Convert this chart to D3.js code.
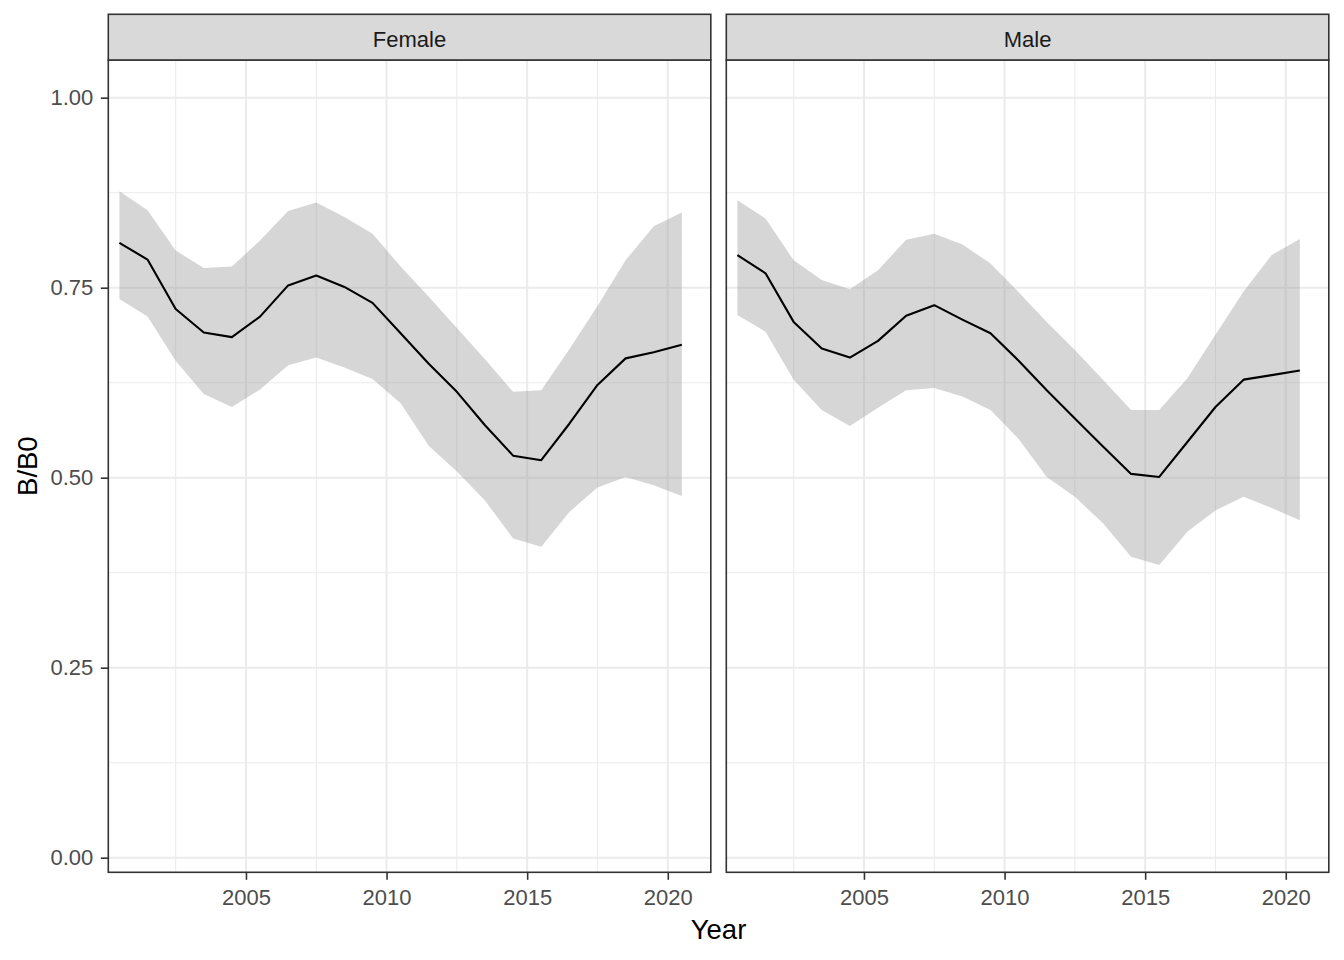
<!DOCTYPE html>
<html>
<head>
<meta charset="utf-8">
<script src="https://cdn.jsdelivr.net/npm/d3@7"></script>
<style>
  body { margin: 0; background: #fff; }
  svg { font-family: "Liberation Sans", Arial, sans-serif; }
</style>
</head>
<body>
<svg id="chart" width="1344" height="960"></svg>
<script>
// estimate years (mid-year points)
const years = d3.range(0, 21).map(i => 2000.5 + i);

const femaleMid = [0.809, 0.787, 0.722, 0.691, 0.685, 0.712, 0.753, 0.766, 0.751, 0.730, 0.690,
                   0.650, 0.613, 0.569, 0.529, 0.523, 0.571, 0.622, 0.657, 0.665, 0.675];
const femaleLo  = [0.735, 0.712, 0.654, 0.610, 0.593, 0.616, 0.648, 0.658, 0.645, 0.630, 0.598,
                   0.542, 0.508, 0.470, 0.420, 0.409, 0.455, 0.487, 0.501, 0.490, 0.476];
const femaleHi  = [0.877, 0.852, 0.799, 0.776, 0.778, 0.812, 0.851, 0.862, 0.843, 0.821, 0.778,
                   0.738, 0.697, 0.656, 0.613, 0.615, 0.669, 0.726, 0.786, 0.831, 0.849];

const maleMid = [0.793, 0.769, 0.705, 0.670, 0.658, 0.680, 0.713, 0.727, 0.708, 0.690, 0.654,
                 0.615, 0.578, 0.541, 0.505, 0.501, 0.547, 0.593, 0.629, 0.635, 0.641];
const maleLo  = [0.714, 0.692, 0.629, 0.589, 0.568, 0.592, 0.615, 0.618, 0.607, 0.589, 0.551,
                 0.501, 0.475, 0.440, 0.396, 0.385, 0.429, 0.457, 0.475, 0.460, 0.444];
const maleHi  = [0.865, 0.841, 0.786, 0.760, 0.748, 0.773, 0.813, 0.821, 0.807, 0.782, 0.744,
                 0.705, 0.668, 0.629, 0.589, 0.589, 0.631, 0.688, 0.745, 0.793, 0.814];

const panelNames = ["Female", "Male"];
const xTicks = [2005, 2010, 2015, 2020];
const xMinorTicks = [2002.5, 2007.5, 2012.5, 2017.5];
const yTicks = [0, 0.25, 0.5, 0.75, 1.0];
const yMinorTicks = [0.125, 0.375, 0.625, 0.875];

const panels = [
    { name: panelNames[0], mid: femaleMid, lo: femaleLo, hi: femaleHi },
    { name: panelNames[1], mid: maleMid, lo: maleLo, hi: maleHi }
].map(p => ({ ...p, rows: years.map((yr, i) => ({ year: yr, mid: p.mid[i], lo: p.lo[i], hi: p.hi[i] })) }));

const svg = d3.select("#chart");

// panel geometry
const panelLefts = [108.3, 726.3];
const panelWidth = 602.5;
const panelTop = 60, panelBottom = 872.3;
const stripTop = 14.3;

const x = d3.scaleLinear().domain([2000.105, 2021.53]).range([0, panelWidth]);
const y = d3.scaleLinear().domain([-0.0192, 1.0496]).range([panelBottom, panelTop]);

panels.forEach((p, pi) => {
    const g = svg.append("g").attr("transform", `translate(${panelLefts[pi]},0)`);

    // background grid
    g.selectAll("line.xminor").data(xMinorTicks).join("line")
        .attr("x1", d => x(d)).attr("x2", d => x(d))
        .attr("y1", panelTop).attr("y2", panelBottom)
        .attr("stroke", "#ebebeb").attr("stroke-width", 1.1);
    g.selectAll("line.yminor").data(yMinorTicks).join("line")
        .attr("x1", 0).attr("x2", panelWidth)
        .attr("y1", d => y(d)).attr("y2", d => y(d))
        .attr("stroke", "#ebebeb").attr("stroke-width", 1.1);
    g.selectAll("line.xmajor").data(xTicks).join("line")
        .attr("x1", d => x(d)).attr("x2", d => x(d))
        .attr("y1", panelTop).attr("y2", panelBottom)
        .attr("stroke", "#ebebeb").attr("stroke-width", 2);
    g.selectAll("line.ymajor").data(yTicks).join("line")
        .attr("x1", 0).attr("x2", panelWidth)
        .attr("y1", d => y(d)).attr("y2", d => y(d))
        .attr("stroke", "#ebebeb").attr("stroke-width", 2);

    // ribbon
    const area = d3.area()
        .x(d => x(d.year))
        .y0(d => y(d.lo))
        .y1(d => y(d.hi));
    g.append("path")
        .datum(p.rows)
        .attr("d", area)
        .attr("fill", "#999999")
        .attr("fill-opacity", 0.4);

    // median line
    const line = d3.line()
        .x(d => x(d.year))
        .y(d => y(d.mid));
    g.append("path")
        .datum(p.rows)
        .attr("d", line)
        .attr("fill", "none")
        .attr("stroke", "#000")
        .attr("stroke-width", 2.1)
        .attr("stroke-linejoin", "round");

    // panel border
    g.append("rect")
        .attr("x", 0).attr("y", panelTop)
        .attr("width", panelWidth).attr("height", panelBottom - panelTop)
        .attr("fill", "none").attr("stroke", "#333333").attr("stroke-width", 1.6);

    // strip
    g.append("rect")
        .attr("x", 0).attr("y", stripTop)
        .attr("width", panelWidth).attr("height", panelTop - stripTop)
        .attr("fill", "#d9d9d9").attr("stroke", "#333333").attr("stroke-width", 1.6);
    g.append("text")
        .attr("x", panelWidth / 2).attr("y", 46.5)
        .attr("text-anchor", "middle")
        .attr("font-size", 22).attr("fill", "#1a1a1a")
        .text(p.name);

    // x axis
    const xAxis = g.append("g")
        .attr("transform", `translate(0,${panelBottom})`)
        .call(d3.axisBottom(x).tickValues(xTicks).tickFormat(d3.format("d")).tickSize(7.5).tickPadding(9.5));
    xAxis.select(".domain").remove();
    xAxis.selectAll(".tick line").attr("stroke", "#333333").attr("stroke-width", 1.6);
    xAxis.selectAll(".tick text")
        .attr("font-size", 22).attr("fill", "#4d4d4d")
        .attr("font-family", "Liberation Sans, Arial, sans-serif");

    // y axis only on first panel
    if (pi === 0) {
        const yAxis = g.append("g")
            .call(d3.axisLeft(y).tickValues(yTicks).tickFormat(d3.format(".2f")).tickSize(7.5).tickPadding(7.5));
        yAxis.select(".domain").remove();
        yAxis.selectAll(".tick line").attr("stroke", "#333333").attr("stroke-width", 1.6);
        yAxis.selectAll(".tick text")
            .attr("font-size", 22).attr("fill", "#4d4d4d")
            .attr("font-family", "Liberation Sans, Arial, sans-serif");
    }
});

// axis titles
svg.append("text")
    .attr("x", (panelLefts[0] + panelLefts[1] + panelWidth) / 2)
    .attr("y", 939.3)
    .attr("text-anchor", "middle")
    .attr("font-size", 27.5)
    .attr("fill", "#000")
    .text("Year");

svg.append("text")
    .attr("transform", `translate(36.7,${(panelTop + panelBottom) / 2}) rotate(-90)`)
    .attr("text-anchor", "middle")
    .attr("font-size", 27.5)
    .attr("fill", "#000")
    .text("B/B0");
</script>
</body>
</html>
